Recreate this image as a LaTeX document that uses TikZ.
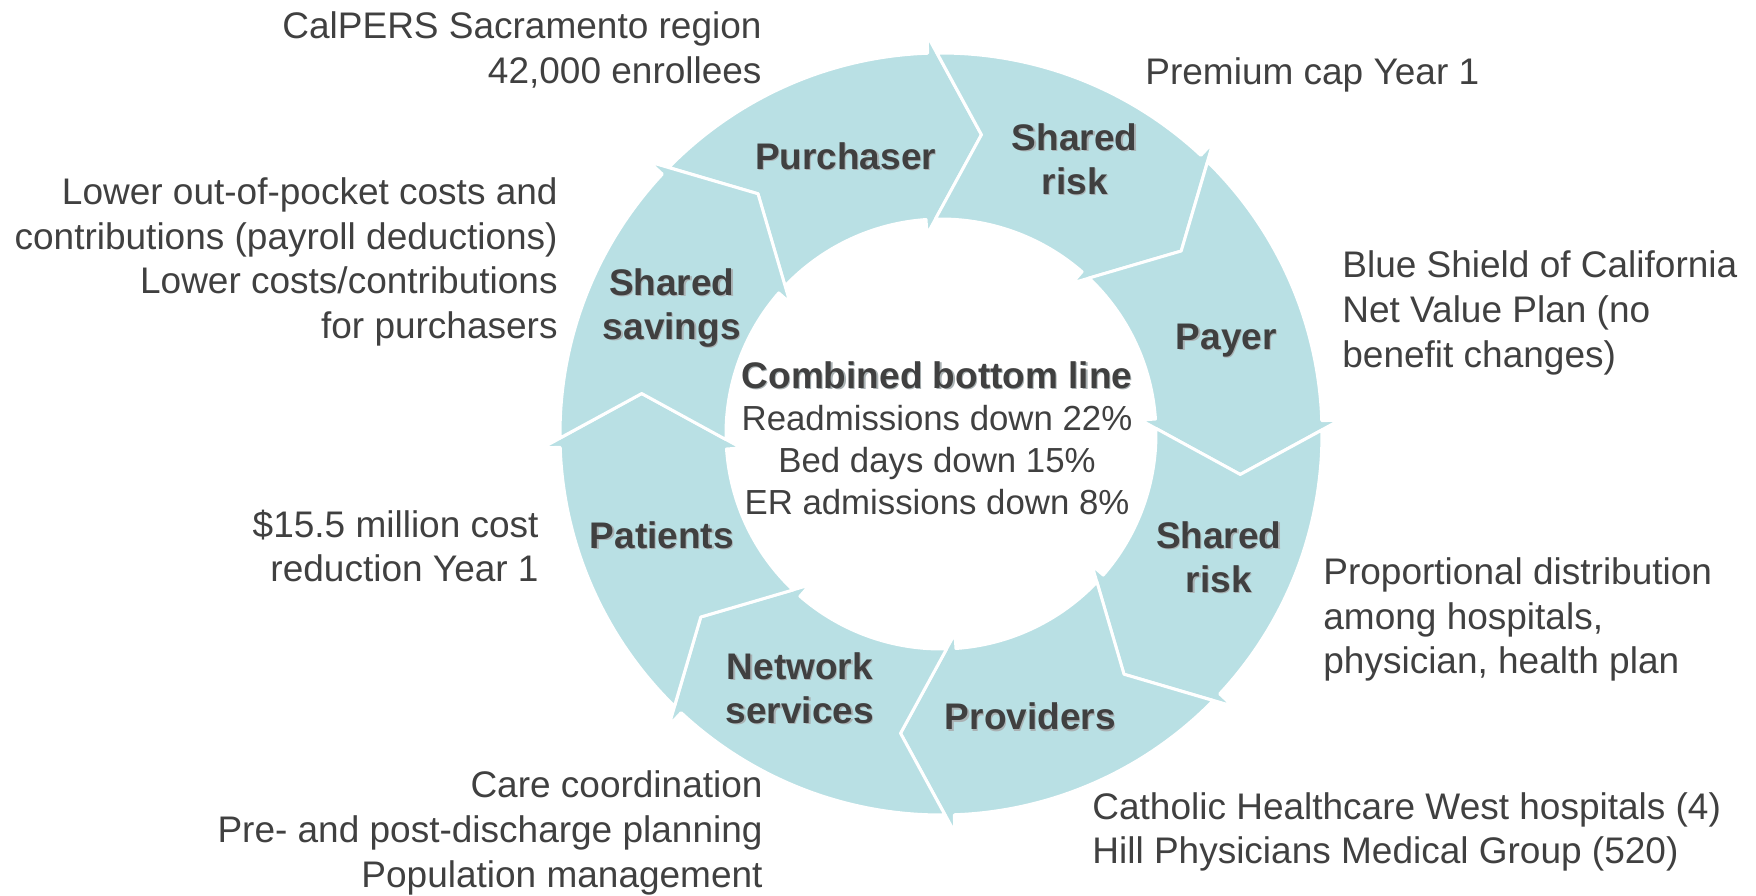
\documentclass[tikz,border=0pt]{standalone}
\usepackage{fontspec}
\setmainfont{Liberation Sans}
\definecolor{ring}{RGB}{185,224,228}
\definecolor{ink}{RGB}{64,64,64}
\definecolor{shade}{RGB}{170,178,180}
\newcommand\shd[1]{\leavevmode\rlap{\kern0.6pt\raisebox{-0.6pt}{\textcolor{shade}{#1}}}#1}

\begin{document}
\begin{tikzpicture}[inner sep=0pt,
  lbl/.style={font=\fontsize{18.5}{22}\selectfont\bfseries,text=ink,align=center},
  note/.style={font=\fontsize{18.5}{22.4}\selectfont,text=ink}]
\def\u{0.5pt}
\def\R{381*\u}\def\r{215*\u}\def\M{302*\u}
\useasboundingbox (-941*\u,-461*\u) rectangle (815*\u,434*\u);

\foreach \j in {90,45,0,-45,-90,-135,-180,-225}{
  \pgfmathsetmacro\t{\j+45}
  \filldraw[fill=ring,draw=white,line width=1.5pt,line join=round]
    (\t+0.6:\R) arc[start angle=\t+0.6,end angle=\j+2,radius=\R]
    -- (\j+2:399*\u) -- (\j-7.7:\M) -- (\j+4:200*\u) -- (\j+4:\r)
    arc[start angle=\j+4,end angle=\t+1.5,radius=\r]
    -- (\t-7.7:\M) -- cycle;
}

\node[lbl] (purchaser) at (109:293*\u) {\shd{Purchaser}};
\node[lbl] (riskA) at (64:305*\u) {\shd{Shared}\\\shd{risk}};
\node[lbl] (payer) at (18:300*\u) {\shd{Payer}};
\node[lbl] (riskB) at (-24:304*\u) {\shd{Shared}\\\shd{risk}};
\node[lbl] (providers) at (-72.5:297*\u) {\shd{Providers}};
\node[lbl] (network) at (-119:291*\u) {\shd{Network}\\\shd{services}};
\node[lbl] (patients) at (200:297*\u) {\shd{Patients}};
\node[lbl] (savings) at (155:297*\u) {\shd{Shared}\\\shd{savings}};

\node[note,align=center,font=\fontsize{17.4}{21}\selectfont] (bottomline) at (-4*\u,-4.5*\u)
  {{\fontsize{18.5}{21}\selectfont\bfseries\shd{Combined bottom line}}\\Readmissions down 22\%\\Bed days down 15\%\\ER admissions down 8\%};

\node[note,anchor=east,align=right] (calpers) at (-179*\u,384*\u) {CalPERS Sacramento region\\42,000 enrollees};
\node[note,anchor=west,align=left] (premium) at (204*\u,359.5*\u) {Premium cap Year 1};
\node[note,anchor=east,align=right] (lower) at (-383*\u,172*\u) {Lower out-of-pocket costs and\\contributions (payroll deductions)\\Lower costs/contributions\\for purchasers};
\node[note,anchor=west,align=left] (blueshield) at (401*\u,121*\u) {Blue Shield of California\\Net Value Plan (no\\benefit changes)};
\node[note,anchor=east,align=right] (reduction) at (-402*\u,-112*\u) {\$15.5 million cost\\reduction Year 1};
\node[note,anchor=west,align=left] (proportional) at (382*\u,-185.5*\u) {Proportional distribution\\among hospitals,\\physician, health plan};
\node[note,anchor=east,align=right] (care) at (-178*\u,-399*\u) {Care coordination\\Pre- and post-discharge planning\\Population management};
\node[note,anchor=west,align=left] (catholic) at (151*\u,-398*\u) {Catholic Healthcare West hospitals (4)\\Hill Physicians Medical Group (520)};
\end{tikzpicture}
\end{document}
